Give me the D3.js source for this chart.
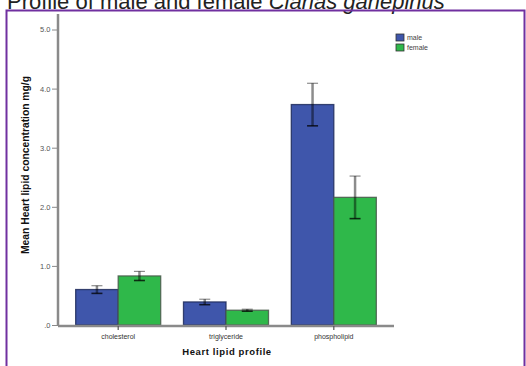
<!DOCTYPE html>
<html>
<head>
<meta charset="utf-8">
<script src="https://cdn.jsdelivr.net/npm/d3@7"></script>
<style>
  html, body { margin: 0; padding: 0; background: #fff; }
  svg { display: block; }
</style>
</head>
<body>
<svg id="chart" width="526" height="366"></svg>
<script>
// Mean heart lipid concentrations (mg/g) with error bar half-widths
const categories = ["cholesterol", "triglyceride", "phospholipid"];
const sexes = ["male", "female"];
const maleMeans = [0.60, 0.39, 3.73];
const femaleMeans = [0.83, 0.25, 2.16];
const maleErr = [0.065, 0.046, 0.36];
const femaleErr = [0.077, 0.017, 0.36];
const yTicks = [0, 1, 2, 3, 4, 5];
const yTickLabels = [".0", "1.0", "2.0", "3.0", "4.0", "5.0"];

const colors = { male: "#3f56ab", female: "#2fb84a" };

const svg = d3.select("#chart");

// Title (runs off the top edge of the page)
const title = svg.append("text")
  .attr("x", 7).attr("y", 9)
  .attr("font-family", "Liberation Sans, Arial, sans-serif")
  .attr("font-size", 22)
  .attr("fill", "#222");
title.append("tspan").text("Profile of male and female ");
title.append("tspan").attr("font-style", "italic").text("Clarias gariepinus");

// Purple frame
svg.append("path")
  .attr("d", "M6.5,366 V10.5 H524.5 V366")
  .attr("fill", "none")
  .attr("stroke", "#7030a0")
  .attr("stroke-width", 2);

const x0 = d3.scaleBand().domain(categories).range([58, 394])
  .paddingInner(0.2115).paddingOuter(0.164);
const x1 = d3.scaleBand().domain(sexes).range([0, x0.bandwidth()]);
const y = d3.scaleLinear().domain([0, 5]).range([325, 29.5]);

const rows = categories.map((c, i) => ({
  cat: c,
  vals: [
    { sex: "male", v: maleMeans[i], e: maleErr[i] },
    { sex: "female", v: femaleMeans[i], e: femaleErr[i] }
  ]
}));

// Bars
const groups = svg.append("g").selectAll("g").data(rows).join("g")
  .attr("transform", d => `translate(${x0(d.cat)},0)`);

groups.selectAll("rect").data(d => d.vals).join("rect")
  .attr("x", d => x1(d.sex))
  .attr("y", d => y(d.v))
  .attr("width", x1.bandwidth())
  .attr("height", d => y(0) - y(d.v))
  .attr("fill", d => colors[d.sex])
  .attr("stroke", d => d.sex === "male" ? "#1f2b5c" : "#4a5a4c")
  .attr("stroke-opacity", 0.85)
  .attr("stroke-width", 1.3);

// Error bars
const eb = groups.selectAll("g.err").data(d => d.vals).join("g").attr("class", "err")
  .attr("transform", d => `translate(${x1(d.sex) + x1.bandwidth() / 2},0)`)
  .attr("stroke", "#000")
  .attr("stroke-opacity", 0.45);
eb.append("line")
  .attr("y1", d => y(d.v + d.e)).attr("y2", d => y(d.v - d.e))
  .attr("stroke-width", 2.5);
eb.append("line")
  .attr("x1", -5.5).attr("x2", 5.5)
  .attr("y1", d => y(d.v + d.e)).attr("y2", d => y(d.v + d.e))
  .attr("stroke-width", 1.2);
eb.append("line")
  .attr("x1", -5.5).attr("x2", 5.5)
  .attr("y1", d => y(d.v - d.e)).attr("y2", d => y(d.v - d.e))
  .attr("stroke-width", 1.6)
  .attr("stroke-opacity", 0.75);

// Y axis
const yAxis = svg.append("g").attr("transform", "translate(58,0)")
  .call(d3.axisLeft(y).tickValues(yTicks).tickSize(6).tickPadding(1.5)
    .tickFormat((d, i) => yTickLabels[i]));
yAxis.select(".domain").attr("d", "M0,14V326").attr("stroke", "#8a8a8a").attr("stroke-width", 2.5);
yAxis.selectAll(".tick line").attr("stroke", "#8a8a8a").attr("stroke-width", 1);
yAxis.selectAll(".tick text")
  .attr("font-family", "Liberation Sans, Arial, sans-serif")
  .attr("font-size", 7.5).attr("fill", "#555");

// X axis
const xAxis = svg.append("g").attr("transform", "translate(0,326)")
  .call(d3.axisBottom(x0).tickSize(4).tickPadding(4)
    .tickSizeOuter(0));
xAxis.select(".domain").attr("d", "M58,0H394").attr("stroke", "#8a8a8a").attr("stroke-width", 2.5);
xAxis.selectAll(".tick line").attr("stroke", "#555").attr("stroke-width", 1.2);
xAxis.selectAll(".tick text")
  .attr("font-family", "Liberation Sans, Arial, sans-serif")
  .attr("font-size", 7).attr("fill", "#333");

// Axis titles
svg.append("text")
  .attr("transform", "translate(29,165) rotate(-90)")
  .attr("text-anchor", "middle")
  .attr("font-family", "Liberation Sans, Arial, sans-serif")
  .attr("font-size", 10.3).attr("font-weight", "bold")
  .attr("fill", "#111")
  .text("Mean Heart lipid concentration mg/g");

svg.append("text")
  .attr("x", 227).attr("y", 355)
  .attr("text-anchor", "middle")
  .attr("font-family", "Liberation Sans, Arial, sans-serif")
  .attr("font-size", 9.5).attr("font-weight", "bold")
  .attr("letter-spacing", 0.6)
  .attr("fill", "#111")
  .text("Heart lipid profile");

// Legend
const legend = svg.append("g").selectAll("g").data(sexes).join("g")
  .attr("transform", (d, i) => `translate(396,${34 + i * 10})`);
legend.append("rect")
  .attr("width", 8).attr("height", 7)
  .attr("fill", d => colors[d])
  .attr("stroke", "#333").attr("stroke-width", 0.8);
legend.append("text")
  .attr("x", 11).attr("y", 6)
  .attr("font-family", "Liberation Sans, Arial, sans-serif")
  .attr("font-size", 7).attr("fill", "#444")
  .text(d => d);
</script>
</body>
</html>
